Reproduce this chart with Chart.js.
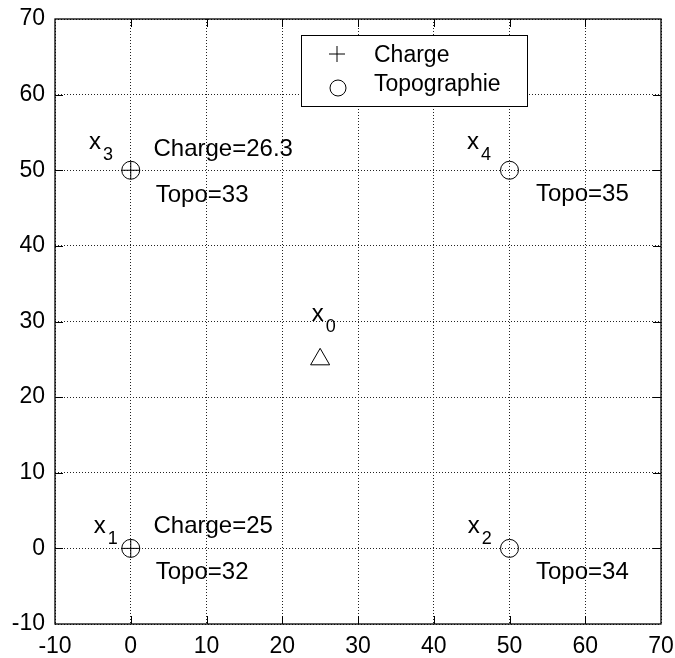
<!DOCTYPE html>
<html>
<head>
<meta charset="utf-8">
<script src="https://cdn.jsdelivr.net/npm/chart.js@4/dist/chart.umd.min.js"></script>
<style>
  html, body { margin: 0; padding: 0; background: #fff; overflow: hidden; }
</style>
</head>
<body>
<canvas id="krige" width="675" height="658"></canvas>
<script>
// axis ticks
const tickMin = -10
const tickMax = 70
const tickStep = 10

// measured points
const chargeX = [0, 0]
const chargeY = [0, 50]
const topoX = [0, 50, 0, 50]
const topoY = [0, 0, 50, 50]
const targetX = [25]
const targetY = [25]

// point names x_i
const nameSub = ['1', '2', '3', '4', '0']
const nameX = [-4.9, 44.5, -5.5, 44.4, 23.9]
const nameY = [2.0, 2.0, 52.8, 52.8, 30.1]

// value annotations
const chargeText = ['Charge=25', 'Charge=26.3']
const chargeTextX = [3.0, 3.0]
const chargeTextY = [2.0, 51.9]
const topoText = ['Topo=32', 'Topo=34', 'Topo=33', 'Topo=35']
const topoTextX = [3.3, 53.5, 3.3, 53.5]
const topoTextY = [-4.0, -4.0, 45.8, 46.0]

const legendLabels = ['Charge', 'Topographie']

const FONT = '"Liberation Sans", Arial, sans-serif'
const zip = (xs, ys) => xs.map((x, i) => ({ x, y: ys[i] }))

/* annotations: x_i names and value texts */
const textPlugin = {
  id: 'texts',
  afterDatasetsDraw (chart) {
    const { ctx, scales: { x, y } } = chart
    ctx.save()
    ctx.fillStyle = '#000'
    ctx.textBaseline = 'alphabetic'
    ctx.textAlign = 'left'
    nameSub.forEach((s, i) => {
      const px = x.getPixelForValue(nameX[i])
      const py = y.getPixelForValue(nameY[i])
      ctx.font = `24px ${FONT}`
      ctx.fillText('x', px, py)
      const w = ctx.measureText('x').width
      ctx.font = `18px ${FONT}`
      ctx.fillText(s, px + w + 2, py + 11)
    })
    ctx.font = `24px ${FONT}`
    chargeText.forEach((t, i) => {
      ctx.fillText(t, x.getPixelForValue(chargeTextX[i]), y.getPixelForValue(chargeTextY[i]))
    })
    topoText.forEach((t, i) => {
      ctx.fillText(t, x.getPixelForValue(topoTextX[i]), y.getPixelForValue(topoTextY[i]))
    })
    ctx.restore()
  }
}

/* frame, inner ticks and the legend box */
const framePlugin = {
  id: 'frame',
  afterDraw (chart) {
    const { ctx, chartArea: a, scales: { x, y } } = chart
    ctx.save()
    ctx.strokeStyle = '#000'
    ctx.lineWidth = 1
    ctx.beginPath()
    x.ticks.forEach((t) => {
      if (t.value === tickMin || t.value === tickMax) return
      const px = Math.round(x.getPixelForValue(t.value)) + 0.5
      ctx.moveTo(px, a.bottom); ctx.lineTo(px, a.bottom - 8)
      ctx.moveTo(px, a.top); ctx.lineTo(px, a.top + 8)
    })
    y.ticks.forEach((t) => {
      if (t.value === tickMin || t.value === tickMax) return
      const py = Math.round(y.getPixelForValue(t.value)) + 0.5
      ctx.moveTo(a.left, py); ctx.lineTo(a.left + 8, py)
      ctx.moveTo(a.right, py); ctx.lineTo(a.right - 8, py)
    })
    ctx.stroke()
    ctx.lineWidth = 1.3
    ctx.strokeRect(a.left, a.top, a.right - a.left, a.bottom - a.top)

    // legend
    const lx = 301; const ly = 35; const lw = 226; const lh = 71
    ctx.fillStyle = '#fff'
    ctx.fillRect(lx, ly, lw, lh)
    ctx.lineWidth = 1
    ctx.strokeRect(lx + 0.5, ly + 0.5, lw, lh)
    ctx.beginPath()
    ctx.moveTo(329, 54); ctx.lineTo(345, 54)
    ctx.moveTo(337, 46); ctx.lineTo(337, 62)
    ctx.stroke()
    ctx.beginPath()
    ctx.arc(338, 88, 8, 0, Math.PI * 2)
    ctx.stroke()
    ctx.fillStyle = '#000'
    ctx.font = `23px ${FONT}`
    ctx.textBaseline = 'alphabetic'
    ctx.fillText(legendLabels[0], 374, 62)
    ctx.fillText(legendLabels[1], 374, 91)
    ctx.restore()
  }
}

const noPad = (s) => {
  s.paddingLeft = 0
  s.paddingRight = 0
  s.paddingTop = 0
  s.paddingBottom = 0
}

const axis = (extra) => ({
  type: 'linear',
  min: tickMin,
  max: tickMax,
  ticks: {
    stepSize: tickStep,
    color: '#000',
    font: { family: FONT, size: 23 },
    ...extra.ticks
  },
  grid: { color: '#222', lineWidth: 1, drawTicks: false },
  border: { display: false, dash: [1, 2] },
  afterFit: extra.afterFit
})

new Chart(document.getElementById('krige'), {
  type: 'scatter',
  data: {
    datasets: [
      {
        label: legendLabels[0],
        data: zip(chargeX, chargeY),
        pointStyle: 'cross',
        radius: 9,
        borderColor: '#000',
        borderWidth: 1
      },
      {
        label: legendLabels[1],
        data: zip(topoX, topoY),
        pointStyle: 'circle',
        radius: 9,
        backgroundColor: 'rgba(0,0,0,0)',
        borderColor: '#000',
        borderWidth: 1
      },
      {
        label: 'x0',
        data: zip(targetX, targetY),
        pointStyle: 'triangle',
        radius: 11,
        backgroundColor: 'rgba(0,0,0,0)',
        borderColor: '#000',
        borderWidth: 1
      }
    ]
  },
  options: {
    responsive: false,
    animation: false,
    layout: { autoPadding: false, padding: { left: 0, top: 19, right: 14, bottom: 0 } },
    plugins: { legend: { display: false }, tooltip: { enabled: false } },
    scales: {
      x: axis({ ticks: { padding: 9, maxRotation: 0 }, afterFit: (s) => { s.height = 34; noPad(s) } }),
      y: axis({ ticks: { padding: 10 }, afterFit: (s) => { s.width = 55; noPad(s) } })
    }
  },
  plugins: [textPlugin, framePlugin]
})
</script>
</body>
</html>
